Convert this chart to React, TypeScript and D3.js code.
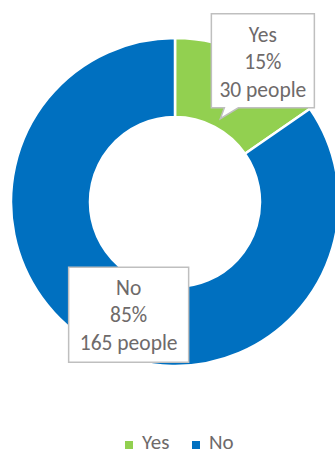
import React from "react";
import * as d3 from "d3";

const categories = ["Yes", "No"];
const values = [30, 165];
const colors = ["#92D050", "#0070C0"];
const unitLabel = "people";

const W = 335;
const H = 454;
const cx = 175;
const cy = 202;
const outerR = 164;
const innerR = 85;
const FONT = "Carlito, Calibri, Lato, 'Open Sans', sans-serif";

export default function App() {
  const total = d3.sum(values);
  const pie = d3.pie<number>().sort(null).value((d) => d);
  const arcs = pie(values);
  const arcGen = d3.arc<d3.PieArcDatum<number>>().innerRadius(innerR).outerRadius(outerR);

  // label box geometry (offsets from slice centroid)
  const labelBoxes = [
    { dx: 30, dy: -31, w: 103, h: 94, tail: true },
    { dx: 11.5, dy: 2.5, w: 120, h: 95, tail: false },
  ];

  return (
    <svg width={W} height={H} style={{ position: "absolute", left: 0, top: 0 }}>
      <rect width={W} height={H} fill="#fff" />
      <g transform={`translate(${cx},${cy})`}>
        {arcs.map((a, i) => (
          <path key={i} d={arcGen(a) || ""} fill={colors[i]} stroke="#fff" strokeWidth={2.5} />
        ))}
        {arcs.map((a, i) => {
          const [mx, my] = arcGen.centroid(a);
          const b = labelBoxes[i];
          const bx = mx + b.dx;
          const by = my + b.dy;
          const x0 = bx - b.w / 2;
          const y0 = by - b.h / 2;
          const pct = Math.round((values[i] / total) * 100);
          let path = `M${x0},${y0} H${x0 + b.w} V${y0 + b.h} H${x0} Z`;
          if (b.tail) {
            const yb = y0 + b.h;
            path = `M${x0},${y0} H${x0 + b.w} V${yb} H${x0 + 27} L${x0 + 9},${yb + 11} L${x0 + 13},${yb} H${x0} Z`;
          }
          return (
            <g key={"l" + i}>
              <path d={path} fill="#fff" stroke="#BFBFBF" strokeWidth={1.5} />
              <text
                x={bx}
                textAnchor="middle"
                fontFamily={FONT}
                fontSize={21.5}
                fill="#6E6A6A"
              >
                <tspan x={bx} y={y0 + 28}>{categories[i]}</tspan>
                <tspan x={bx} y={y0 + 55}>{pct}%</tspan>
                <tspan x={bx} y={y0 + 83}>{`${values[i]} ${unitLabel}`}</tspan>
              </text>
            </g>
          );
        })}
      </g>
      <g transform={`translate(125,441)`}>
        {categories.map((c, i) => (
          <g key={c} transform={`translate(${i * 67},0)`}>
            <rect x={0} y={0} width={8} height={8} fill={colors[i]} />
            <text x={17} y={8} fontFamily={FONT} fontSize={21} fill="#6E6A6A">
              {c}
            </text>
          </g>
        ))}
      </g>
    </svg>
  );
}
